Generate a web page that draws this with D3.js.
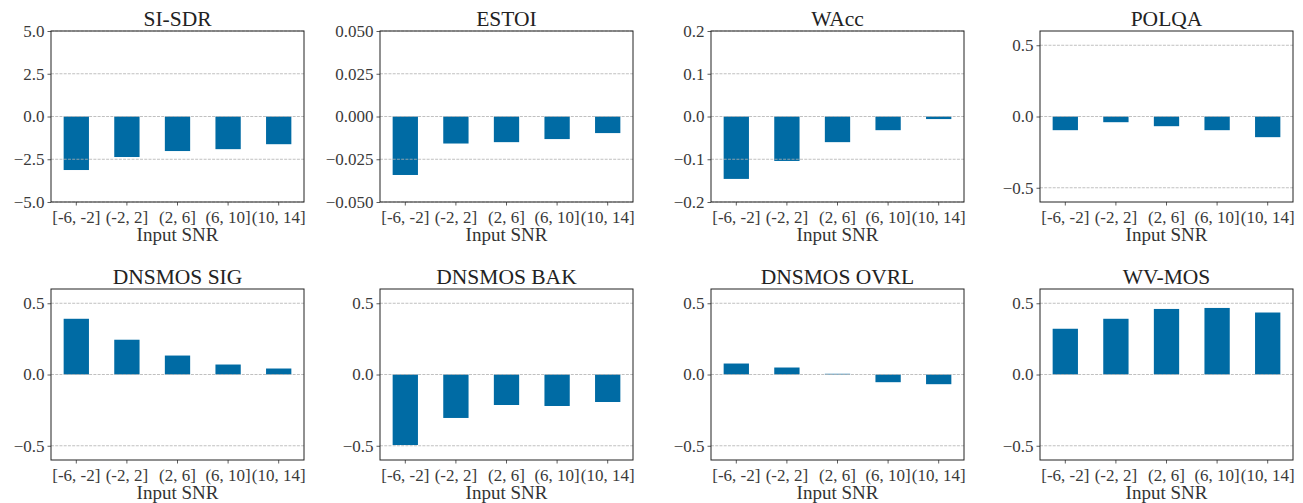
<!DOCTYPE html>
<html>
<head>
<meta charset="utf-8">
<script src="https://cdn.jsdelivr.net/npm/d3@7"></script>
<style>
  body { margin: 0; background: #fff; }
  svg { display: block; }
</style>
</head>
<body>
<div id="chart"></div>
<script>
// data
var categories = ["[-6, -2]", "(-2, 2]", "(2, 6]", "(6, 10]", "(10, 14]"];
var metrics = ["SI-SDR", "ESTOI", "WAcc", "POLQA", "DNSMOS SIG", "DNSMOS BAK", "DNSMOS OVRL", "WV-MOS"];

var siSdr   = [-3.13, -2.37, -2.02, -1.91, -1.62];
var estoi   = [-0.0342, -0.0158, -0.0150, -0.0132, -0.0097];
var wacc    = [-0.146, -0.104, -0.060, -0.032, -0.006];
var polqa   = [-0.096, -0.040, -0.068, -0.096, -0.145];
var dnsSig  = [0.391, 0.244, 0.133, 0.070, 0.042];
var dnsBak  = [-0.495, -0.305, -0.214, -0.221, -0.193];
var dnsOvrl = [0.077, 0.049, 0.005, -0.054, -0.068];
var wvMos   = [0.321, 0.391, 0.460, 0.467, 0.435];

var series = [siSdr, estoi, wacc, polqa, dnsSig, dnsBak, dnsOvrl, wvMos];

var yLimits = [[-5, 5], [-0.05, 0.05], [-0.2, 0.2], [-0.6, 0.6],
               [-0.6, 0.6], [-0.6, 0.6], [-0.6, 0.6], [-0.6, 0.6]];
var yTicks = [[-5, -2.5, 0, 2.5, 5],
              [-0.05, -0.025, 0, 0.025, 0.05],
              [-0.2, -0.1, 0, 0.1, 0.2],
              [-0.5, 0, 0.5], [-0.5, 0, 0.5], [-0.5, 0, 0.5], [-0.5, 0, 0.5], [-0.5, 0, 0.5]];
var yFormats = [".1f", ".3f", ".1f", ".1f", ".1f", ".1f", ".1f", ".1f"];

var xLabel = "Input SNR";

// layout
var full_width = 1303, full_height = 503;
var colLeft = [51, 380, 711, 1040];
var rowTop = [31, 289];
var plotW = 253, plotH = 171;
var barColor = "#006ba4";
var serif = "Liberation Serif";

var svg = d3.select("#chart")
    .append("svg")
    .attr("width", full_width)
    .attr("height", full_height)
    .attr("font-family", serif);

series.forEach(function(values, i){

    var col = i % 4, row = Math.floor(i / 4);

    var g = svg.append("g")
        .attr("transform", "translate(" + colLeft[col] + "," + rowTop[row] + ")");

    var x = d3.scaleBand()
        .domain(categories)
        .range([0, plotW])
        .paddingInner(0.5)
        .paddingOuter(0.25);

    var y = d3.scaleLinear()
        .domain(yLimits[i])
        .range([plotH, 0]);

    // bars
    g.selectAll("rect.bar")
        .data(values)
        .enter().append("rect")
        .attr("class", "bar")
        .attr("x", function(d, j){ return x(categories[j]); })
        .attr("width", x.bandwidth())
        .attr("y", function(d){ return y(Math.max(0, d)); })
        .attr("height", function(d){ return Math.abs(y(d) - y(0)); })
        .attr("fill", barColor);

    // grid (drawn over bars, matplotlib style)
    g.selectAll("line.grid")
        .data(yTicks[i])
        .enter().append("line")
        .attr("class", "grid")
        .attr("x1", 0).attr("x2", plotW)
        .attr("y1", function(d){ return y(d); })
        .attr("y2", function(d){ return y(d); })
        .attr("stroke", "#b0b0b0")
        .attr("stroke-width", 0.8)
        .attr("stroke-dasharray", "2.96,1.28");

    // y axis
    var yAxis = g.append("g")
        .call(d3.axisLeft(y).tickValues(yTicks[i]).tickFormat(d3.format(yFormats[i])).tickSize(3.5).tickPadding(3));

    // x axis
    var xAxis = g.append("g")
        .attr("transform", "translate(0," + plotH + ")")
        .call(d3.axisBottom(x).tickSize(3.5).tickPadding(5));

    [yAxis, xAxis].forEach(function(a){
        a.attr("font-family", serif).attr("font-size", 17);
        a.select(".domain").remove();
        a.selectAll(".tick line").attr("stroke", "#333").attr("stroke-width", 0.8);
        a.selectAll(".tick text").attr("fill", "#3a3a3a");
    });

    // frame
    g.append("rect")
        .attr("x", 0).attr("y", 0)
        .attr("width", plotW).attr("height", plotH)
        .attr("fill", "none")
        .attr("stroke", "#222")
        .attr("stroke-width", 1);

    // title
    g.append("text")
        .attr("x", plotW / 2)
        .attr("y", -5)
        .attr("text-anchor", "middle")
        .attr("font-size", 21.5)
        .attr("fill", "#222")
        .text(metrics[i]);

    // x label
    g.append("text")
        .attr("x", plotW / 2)
        .attr("y", plotH + 39)
        .attr("text-anchor", "middle")
        .attr("font-size", 19)
        .attr("fill", "#333")
        .text(xLabel);
});
</script>
</body>
</html>
